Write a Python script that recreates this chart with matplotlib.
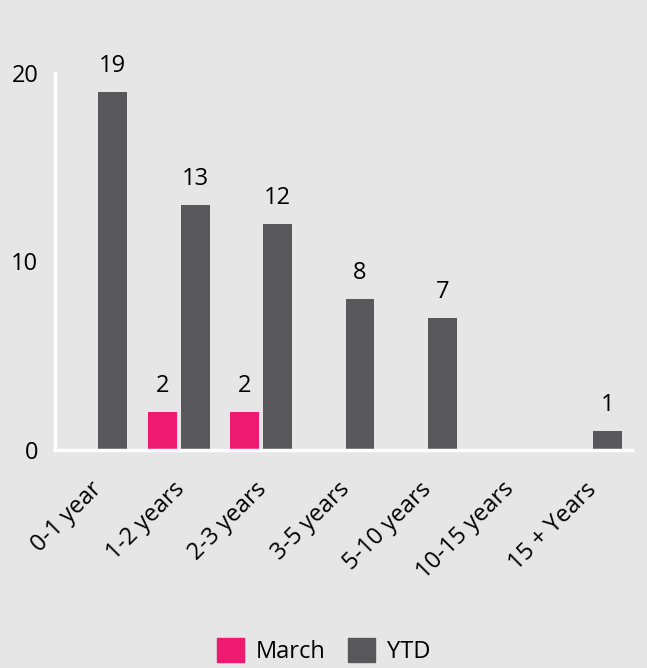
import matplotlib
matplotlib.use("Agg")
import matplotlib.pyplot as plt
import matplotlib.transforms as mtransforms
import numpy as np
from matplotlib.patches import Patch

categories = ["0-1 year", "1-2 years", "2-3 years", "3-5 years", "5-10 years", "10-15 years", "15 + Years"]
march = [0, 2, 2, 0, 0, 0, 0]
ytd = [19, 13, 12, 8, 7, 0, 1]
yticks = [0, 10, 20]

bg = "#e6e6e6"
c_march = "#ed1a6f"
c_ytd = "#58585b"
fs = 17

plt.rcParams['font.family'] = ['Open Sans', 'DejaVu Sans']

fig = plt.figure(figsize=(6.47, 6.68), dpi=100, facecolor=bg)
ax = fig.add_axes([55/647, 1-450/668, (632-55)/647, (450-73)/668])
ax.set_facecolor(bg)

x = np.arange(len(categories))
w = 0.35
gap = 0.05
for i in range(len(categories)):
    if march[i] > 0:
        ax.bar(x[i] - (w + gap) / 2, march[i], width=w, color=c_march)
        ax.text(x[i] - (w + gap) / 2, march[i] + 0.75, str(march[i]), ha='center', va='bottom', fontsize=fs)
    if ytd[i] > 0:
        ax.bar(x[i] + (w + gap) / 2, ytd[i], width=w, color=c_ytd)
        ax.text(x[i] + (w + gap) / 2, ytd[i] + 0.75, str(ytd[i]), ha='center', va='bottom', fontsize=fs)

ax.set_xlim(-0.5, len(categories) - 0.5)
ax.set_ylim(0, 20)
ax.set_yticks(yticks)
ax.set_yticklabels([str(v) for v in yticks], fontsize=fs)
ax.set_xticks(x)
ax.set_xticklabels(categories, rotation=45, ha='right', rotation_mode='anchor', fontsize=fs)
ax.tick_params(length=0)
ax.tick_params(axis='y', pad=12)
ax.tick_params(axis='x', pad=14)
offset = mtransforms.ScaledTranslation(-6/100, -8/100, fig.dpi_scale_trans)
for lbl in ax.get_xticklabels():
    lbl.set_transform(lbl.get_transform() + offset)
for s in ['top', 'right']:
    ax.spines[s].set_visible(False)
for s in ['left', 'bottom']:
    ax.spines[s].set_color('white')
    ax.spines[s].set_linewidth(2.5)

handles = [Patch(color=c_march, label='March'), Patch(color=c_ytd, label='YTD')]
fig.legend(handles=handles, loc='lower center', bbox_to_anchor=(0.5, -0.026), ncol=2, frameon=False,
           fontsize=fs, handlelength=1.15, handleheight=1.15, columnspacing=0.95, handletextpad=0.5)

fig.savefig("out.png", dpi=100, facecolor=bg)
